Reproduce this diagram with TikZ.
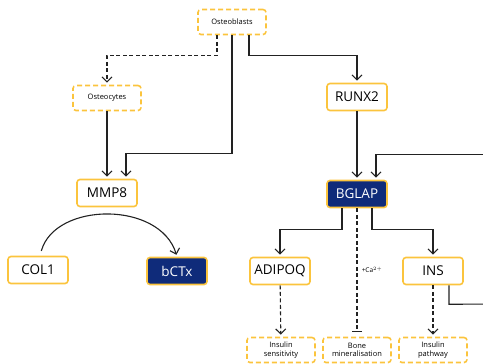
\documentclass[tikz,border=0pt]{standalone}
\usepackage{fontspec}
\setmainfont{Open Sans}
\usetikzlibrary{arrows.meta}
\definecolor{boxyellow}{HTML}{FBC43D}
\definecolor{navy}{HTML}{0F2B7A}
\definecolor{linegray}{HTML}{222222}
\begin{document}
\begin{tikzpicture}[x=1pt, y=-1pt,
	every node/.style={rounded corners=3pt, line width=1.6pt, inner sep=0pt, align=center},
	cell/.style={draw=boxyellow, line width=1.6pt, dash pattern=on 5pt off 3pt, minimum width=68pt, minimum height=25pt, font=\fontsize{7.5}{8.5}\selectfont},
	gene/.style={draw=boxyellow, fill=white, minimum width=60pt, minimum height=27pt, font=\fontsize{13.5}{15}\selectfont},
	marker/.style={gene, fill=navy, text=white},
	link/.style={draw=linegray, line width=1.1pt, -{Straight Barb[length=5pt, width=10pt]}, shorten >=2pt},
	dlink/.style={link, dash pattern=on 4pt off 2.5pt}]
	\clip (0,0) rectangle (483,364);
	\node[cell] (ob) at (232,22) {Osteoblasts};
	\node[cell] (oc) at (107,98) {Osteocytes};
	\node[gene] (mmp) at (107,193) {MMP8};
	\node[gene] (col) at (38,270) {COL1};
	\node[marker] (bctx) at (177,271) {bCTx};
	\node[gene] (runx) at (357,97) {RUNX2};
	\node[marker] (bglap) at (357,194) {BGLAP};
	\node[gene] (adipoq) at (280,271) {ADIPOQ};
	\node[gene] (ins) at (433,271) {INS};
	\node[cell] (sens) at (281,350) {Insulin\\sensitivity};
	\node[cell] (bone) at (357,350) {Bone\\mineralisation};
	\node[cell] (path) at (433,350) {Insulin\\pathway};
	\node[font=\fontsize{6.5}{7}\selectfont] (ca) at (372,270) {+Ca$^{2+}$};
	\coordinate (fbin) at (490,154.5);
	\coordinate (fbout) at (490,304);
	% osteoblast branches
	\draw[dlink] ([xshift=-15pt]ob.south) -- ++(0,20) -| (oc.north);
	\draw[link] (ob.south) -- ++(0,118) -| ([xshift=19pt]mmp.north);
	\draw[link] ([xshift=17pt]ob.south) -- ++(0,20) -| (runx.north);
	\draw[link] (oc) -- (mmp);
	\draw[link, shorten <=5pt] ([xshift=2pt]col.north) .. controls +(15,-54) and +(-17,-56) .. (bctx.north);
	\draw[link] (runx) -- (bglap);
	% feedback from INS
	\draw[link] (fbin) -| ([xshift=19pt]bglap.north);
	\draw[draw=linegray, line width=1.1pt] ([xshift=16pt]ins.south) -- ++(0,19) -- (fbout);
	% BGLAP targets
	\draw[link] ([xshift=-15pt]bglap.south) -- ++(0,21) -| (adipoq.north);
	\draw[link] ([xshift=15pt]bglap.south) -- ++(0,21) -| (ins.north);
	\draw[dlink, -{Bar[width=10pt]}, shorten >=5pt] (bglap) -- (bone);
	\draw[dlink] (adipoq) -- (sens);
	\draw[dlink] (ins) -- (path);
\end{tikzpicture}
\end{document}
